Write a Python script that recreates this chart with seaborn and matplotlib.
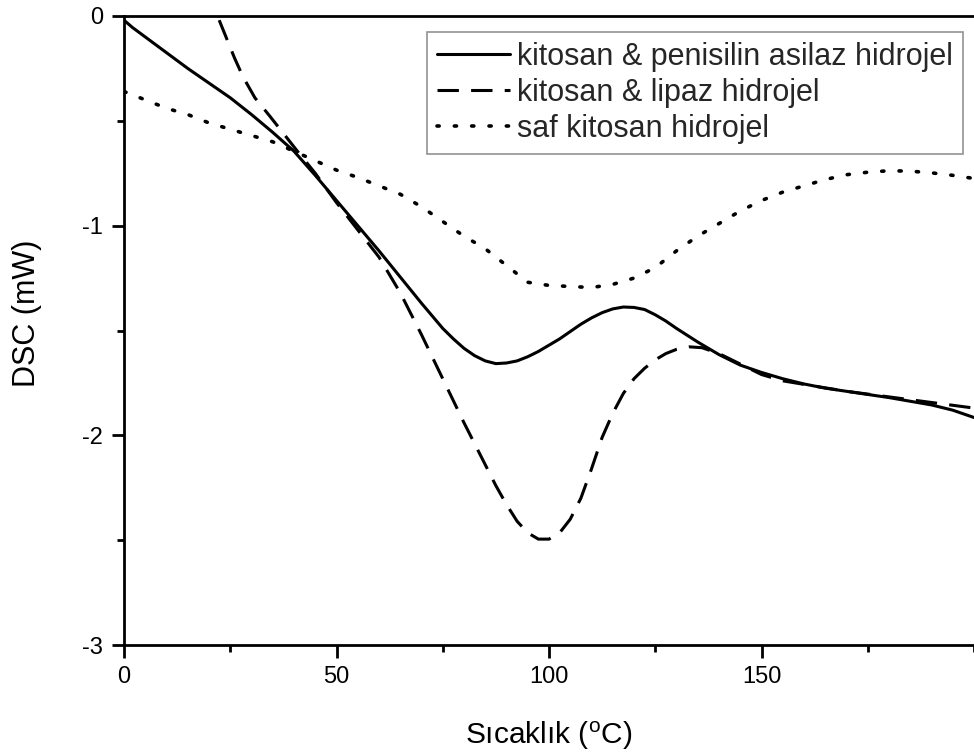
import numpy as np
import pandas as pd
import matplotlib
matplotlib.use("Agg")
import matplotlib.pyplot as plt
import seaborn as sns
from matplotlib.ticker import MultipleLocator

# --- data ---
x_penisilin = [0, 2, 5, 10, 15, 20, 25, 30, 35, 40, 45, 50, 55, 60, 65, 70, 72.5, 75, 77.5,
               80, 82.5, 85, 87.5, 90, 92.5, 95, 97.5, 100, 102.5, 105, 107.5, 110, 112.5,
               115, 117.5, 120, 122.5, 125, 127.5, 130, 135, 140, 145, 150, 155, 160, 165,
               170, 180, 190, 195, 200]
y_penisilin = [-0.02, -0.055, -0.10, -0.175, -0.25, -0.32, -0.39, -0.47, -0.555, -0.645,
               -0.76, -0.88, -1.00, -1.12, -1.245, -1.37, -1.43, -1.49, -1.54, -1.585,
               -1.62, -1.645, -1.658, -1.655, -1.645, -1.625, -1.60, -1.57, -1.54, -1.505,
               -1.47, -1.44, -1.415, -1.397, -1.388, -1.39, -1.40, -1.425, -1.455, -1.49,
               -1.555, -1.615, -1.665, -1.70, -1.73, -1.755, -1.775, -1.79, -1.82, -1.855,
               -1.88, -1.915]

x_lipaz = [22.4, 24, 26, 28, 30.8, 34.4, 37.9, 41, 45, 50, 55, 60, 65, 70, 75, 80, 85,
           87.5, 90, 92.5, 95, 97.5, 100, 102.5, 105, 107.5, 110, 112.5, 115, 117.5, 120,
           122.5, 125, 127.5, 130, 133, 136, 140, 145, 150, 155, 160, 170, 185, 200]
y_lipaz = [-0.02, -0.10, -0.20, -0.29, -0.39, -0.48, -0.57, -0.65, -0.75, -0.89, -1.02,
           -1.15, -1.32, -1.52, -1.73, -1.94, -2.14, -2.24, -2.33, -2.41, -2.465, -2.495,
           -2.495, -2.465, -2.40, -2.30, -2.16, -2.01, -1.895, -1.80, -1.73, -1.68, -1.64,
           -1.61, -1.59, -1.578, -1.582, -1.61, -1.66, -1.71, -1.74, -1.757, -1.79, -1.83,
           -1.87]

x_saf = [0, 5, 10, 15, 20, 25, 30, 35, 40, 45, 50, 55, 60, 65, 70, 75, 80, 85, 90, 95,
         100, 105, 110, 115, 120, 125, 130, 135, 140, 145, 150, 155, 160, 165, 170, 175,
         180, 185, 190, 195, 200]
y_saf = [-0.36, -0.40, -0.44, -0.47, -0.51, -0.54, -0.57, -0.60, -0.645, -0.69, -0.735,
         -0.77, -0.81, -0.85, -0.91, -0.98, -1.05, -1.11, -1.19, -1.27, -1.285, -1.29,
         -1.295, -1.28, -1.25, -1.20, -1.12, -1.05, -0.99, -0.93, -0.88, -0.84, -0.81,
         -0.78, -0.757, -0.745, -0.738, -0.74, -0.748, -0.76, -0.775]

labels = ["kitosan & penisilin asilaz hidrojel",
          "kitosan & lipaz hidrojel",
          "saf kitosan hidrojel"]
x_ticks = [0, 50, 100, 150]
y_ticks = [0, -1, -2, -3]

sns.set_theme(style="ticks")
plt.rcParams["font.family"] = ["Liberation Sans", "DejaVu Sans"]
plt.rcParams["mathtext.fontset"] = "custom"
plt.rcParams["mathtext.rm"] = "Liberation Sans"

fig = plt.figure(figsize=(9.74, 7.53), dpi=100)
ax = fig.add_axes([124 / 974, 1 - 645 / 753, 1 - 124 / 974, (645 - 16) / 753])

df1 = pd.DataFrame({"x": x_penisilin, "y": y_penisilin})
df2 = pd.DataFrame({"x": x_lipaz, "y": y_lipaz})
df3 = pd.DataFrame({"x": x_saf, "y": y_saf})

sns.lineplot(data=df1, x="x", y="y", ax=ax, color="black", linewidth=2.2,
             label=labels[0])
sns.lineplot(data=df2, x="x", y="y", ax=ax, color="black", linewidth=2.2,
             label=labels[1], linestyle=(0, (7, 4)))
sns.lineplot(data=df3, x="x", y="y", ax=ax, color="black", linewidth=2.6,
             label=labels[2], linestyle=(0, (0.6, 4.2)), dash_capstyle="round")

ax.set_xlim(0, 200)
ax.set_ylim(-3, 0)
ax.set_xticks(x_ticks)
ax.set_xticklabels([str(v) for v in x_ticks])
ax.set_yticks(y_ticks)
ax.set_yticklabels([str(v) for v in y_ticks])
ax.xaxis.set_minor_locator(MultipleLocator(25))
ax.yaxis.set_minor_locator(MultipleLocator(0.5))

ax.tick_params(axis="both", which="major", direction="out", length=9, width=2,
               labelsize=17, color="black", labelcolor="black", pad=6)
ax.tick_params(axis="both", which="minor", direction="out", length=5, width=2,
               color="black")
ax.tick_params(top=False, right=False, which="both")

for side in ["left", "bottom", "top"]:
    ax.spines[side].set_linewidth(2)
    ax.spines[side].set_color("black")
ax.spines["right"].set_visible(False)

ax.set_xlabel("Sıcaklık ($\\mathregular{^{o}}$C)", fontsize=21.5, color="black",
              labelpad=23)
ax.set_ylabel("DSC (mW)", fontsize=22, color="black")
ax.yaxis.set_label_coords(-0.097, 0.528)

leg = ax.legend(loc="upper right", bbox_to_anchor=(0.987, 0.975), fontsize=22,
                frameon=True, fancybox=False, edgecolor="#777777",
                handlelength=2.4, handletextpad=0.22, borderpad=0.33,
                labelspacing=0.2, borderaxespad=0)
leg.get_frame().set_linewidth(1.2)

fig.savefig("out.png", dpi=100, facecolor="white")
